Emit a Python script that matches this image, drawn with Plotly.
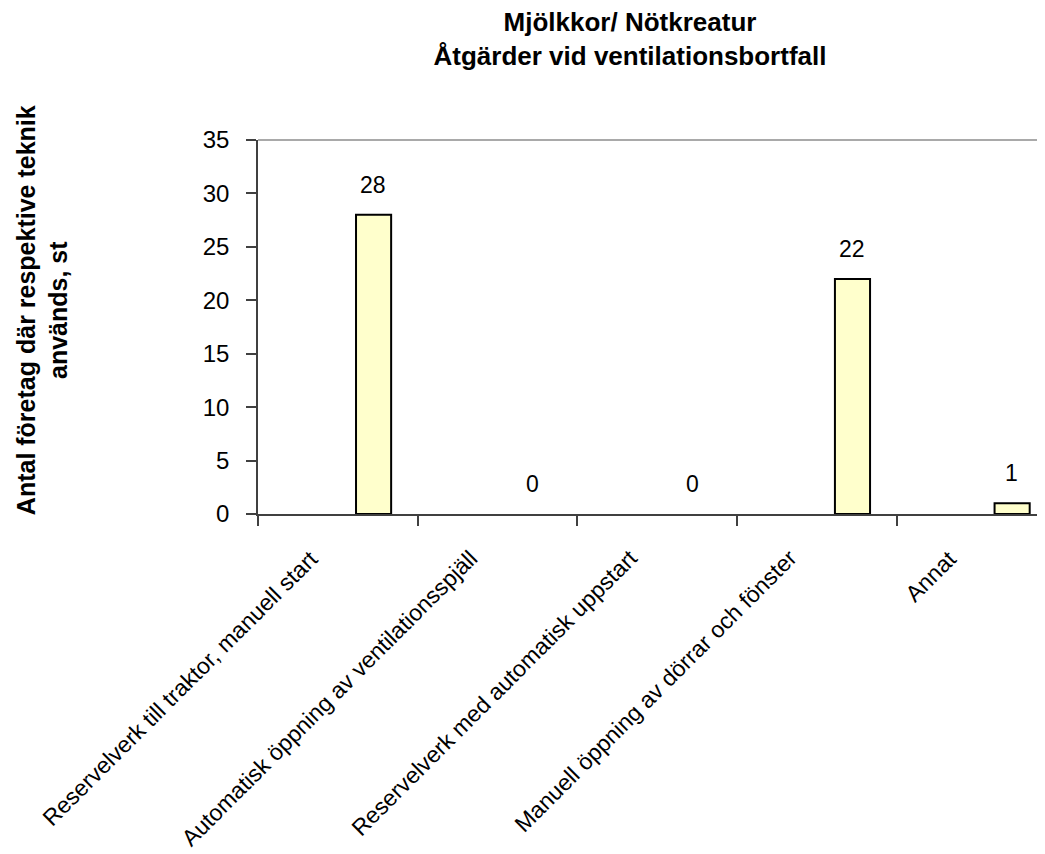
import plotly.graph_objects as go

# data
categories = [
    "Reservelverk till traktor, manuell start",
    "Automatisk öppning av ventilationsspjäll",
    "Reservelverk med automatisk uppstart",
    "Manuell öppning av dörrar och fönster",
    "Annat",
]
counts = [28, 0, 0, 22, 1]

title_lines = ["Mjölkkor/ Nötkreatur", "Åtgärder vid ventilationsbortfall"]
ytitle_lines = ["Antal företag där respektive teknik", "används, st"]

FONT = "Liberation Sans, Arial, sans-serif"

fig = go.Figure()
fig.add_trace(
    go.Bar(
        x=categories,
        y=counts,
        width=0.22,
        offset=0.114,
        marker=dict(
            color="#FFFFCC",
            # no outline on empty bars, as in the original
            line=dict(color="#000000", width=[2 if v else 0 for v in counts]),
        ),
        hoverinfo="x+y",
    )
)

# value labels above each bar
for cat, val in zip(categories, counts):
    fig.add_annotation(
        x=cat, y=val, text=str(val), showarrow=False,
        xshift=35.5, yshift=30, yanchor="middle",
        font=dict(family=FONT, size=23, color="#000000"),
    )

# category labels, rotated 45 degrees under the axis
for cat in categories:
    fig.add_annotation(
        x=cat, y=0, text=cat, showarrow=False, textangle=-45,
        xanchor="right", yanchor="top", xshift=-12, yshift=-28,
        font=dict(family=FONT, size=23, color="#000000"),
    )

# y axis title (two lines, bold)
fig.add_annotation(
    xref="paper", yref="paper", x=-0.2717, y=0.545,
    text="<b>" + "<br>".join(ytitle_lines) + "</b>",
    textangle=-90, showarrow=False, xanchor="center", yanchor="middle",
    font=dict(family=FONT, size=25, color="#000000"),
)

# thin grey line along the top of the plot area
fig.add_shape(
    type="line", xref="paper", yref="paper", x0=0, x1=1, y0=1, y1=1,
    line=dict(color="#8c8c8c", width=1.5),
)

fig.update_layout(
    width=1045,
    height=854,
    margin=dict(l=250, r=0, t=132, b=348),
    paper_bgcolor="white",
    plot_bgcolor="white",
    showlegend=False,
    font=dict(family=FONT, color="#000000"),
    title=dict(
        text="<b>" + "<br>".join(title_lines) + "</b>",
        x=622 / 1045, xanchor="center",
        y=1 - 23 / 854, yanchor="middle",
        font=dict(family=FONT, size=26, color="#000000"),
    ),
    xaxis=dict(
        type="category",
        range=[-0.5, 4.48],
        tickson="boundaries",
        ticks="outside",
        ticklen=10,
        tickcolor="#404040",
        tickwidth=1.5,
        showticklabels=False,
        showline=True,
        linecolor="#404040",
        linewidth=1.5,
        showgrid=False,
        zeroline=False,
    ),
    yaxis=dict(
        range=[0, 35],
        dtick=5,
        ticks="outside",
        ticklen=10,
        tickcolor="#404040",
        tickwidth=1.5,
        ticklabelstandoff=12,
        tickfont=dict(family=FONT, size=24, color="#000000"),
        showline=True,
        linecolor="#404040",
        linewidth=1.5,
        showgrid=False,
        zeroline=False,
    ),
)

fig.write_html("out.html")
